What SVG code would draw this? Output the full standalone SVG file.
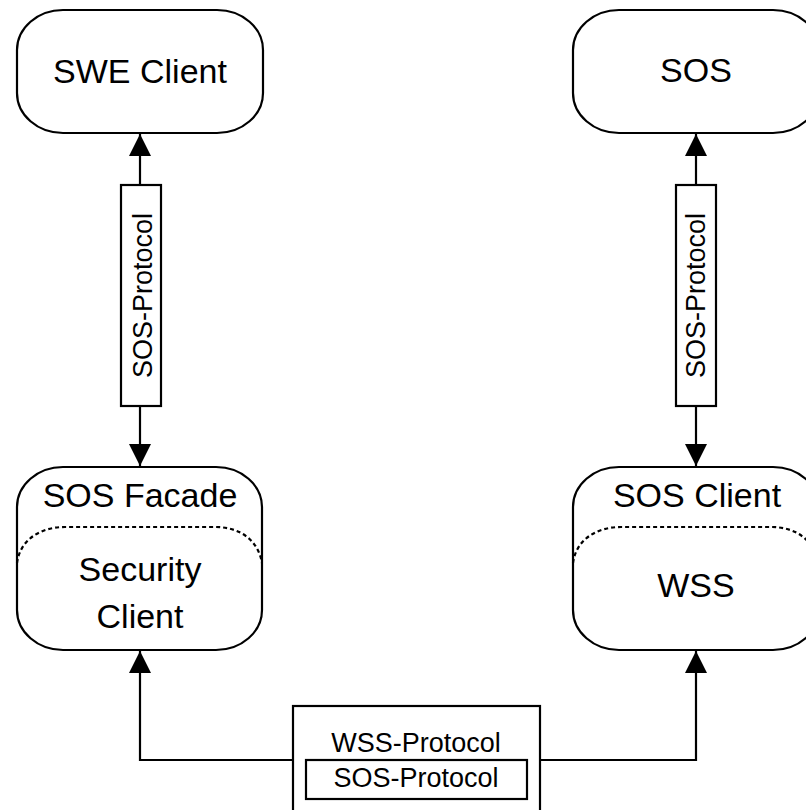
<svg xmlns="http://www.w3.org/2000/svg" width="806" height="810" viewBox="0 0 806 810">
<style>
.box{fill:#fff;stroke:#000;stroke-width:2.2}
.dash{fill:none;stroke:#000;stroke-width:2.2;stroke-dasharray:4 3}
.line{fill:none;stroke:#000;stroke-width:2.2}
.t{font-family:"Liberation Sans",Arial,sans-serif;font-size:34px;fill:#000;text-anchor:middle}
.s{font-family:"Liberation Sans",Arial,sans-serif;font-size:27px;fill:#000;text-anchor:middle}
</style>
<defs>
<marker id="ah" markerUnits="userSpaceOnUse" markerWidth="22" markerHeight="22" refX="22" refY="11" orient="auto">
<path d="M0,0 L22,11 L0,22 z" fill="#000"/>
</marker>
</defs>
<rect width="806" height="810" fill="#fff"/>
<g id="connectors">
<line class="line" x1="140" y1="185" x2="140" y2="134" marker-end="url(#ah)"/>
<line class="line" x1="140" y1="406" x2="140" y2="466" marker-end="url(#ah)"/>
<line class="line" x1="696" y1="185" x2="696" y2="134" marker-end="url(#ah)"/>
<line class="line" x1="696" y1="406" x2="696" y2="466" marker-end="url(#ah)"/>
<polyline class="line" points="293,760 140,760 140,651" marker-end="url(#ah)"/>
<polyline class="line" points="540,760 696,760 696,651" marker-end="url(#ah)"/>
<g id="proto-left">
<rect class="box" x="121" y="185" width="40" height="221"/>
<text class="s" transform="translate(152,295.5) rotate(-90)">SOS-Protocol</text>
</g>
<g id="proto-right">
<rect class="box" x="676" y="185" width="40" height="221"/>
<text class="s" transform="translate(705,295.5) rotate(-90)">SOS-Protocol</text>
</g>
</g>
<g id="swe-client">
<rect class="box" x="17" y="10" width="246" height="123" rx="46" ry="40"/>
<text class="t" x="140" y="83">SWE Client</text>
</g>
<g id="sos">
<rect class="box" x="573" y="10" width="246" height="123" rx="46" ry="40"/>
<text class="t" x="696" y="82">SOS</text>
</g>
<g id="sos-facade">
<rect class="box" x="17" y="467" width="245" height="183" rx="46" ry="40"/>
<path class="dash" d="M17,563 C20,540 40,527 65,527 L215,527 C240,527 258,540 262,563"/>
<text class="t" x="140" y="507">SOS Facade</text>
<text class="t" x="140" y="581">Security</text>
<text class="t" x="140" y="628">Client</text>
</g>
<g id="sos-client">
<rect class="box" x="573" y="467" width="246" height="183" rx="46" ry="40"/>
<path class="dash" d="M573,563 C576,540 596,527 621,527 L771,527 C796,527 814,540 818,563"/>
<text class="t" x="697" y="507">SOS Client</text>
<text class="t" x="696" y="597">WSS</text>
</g>
<g id="wss-protocol">
<rect class="box" x="293" y="706" width="247" height="130"/>
<text class="s" x="416" y="752">WSS-Protocol</text>
<g id="sos-protocol-inner">
<rect class="box" x="306" y="760" width="221" height="39"/>
<text class="s" x="416" y="787">SOS-Protocol</text>
</g>
</g>
</svg>
